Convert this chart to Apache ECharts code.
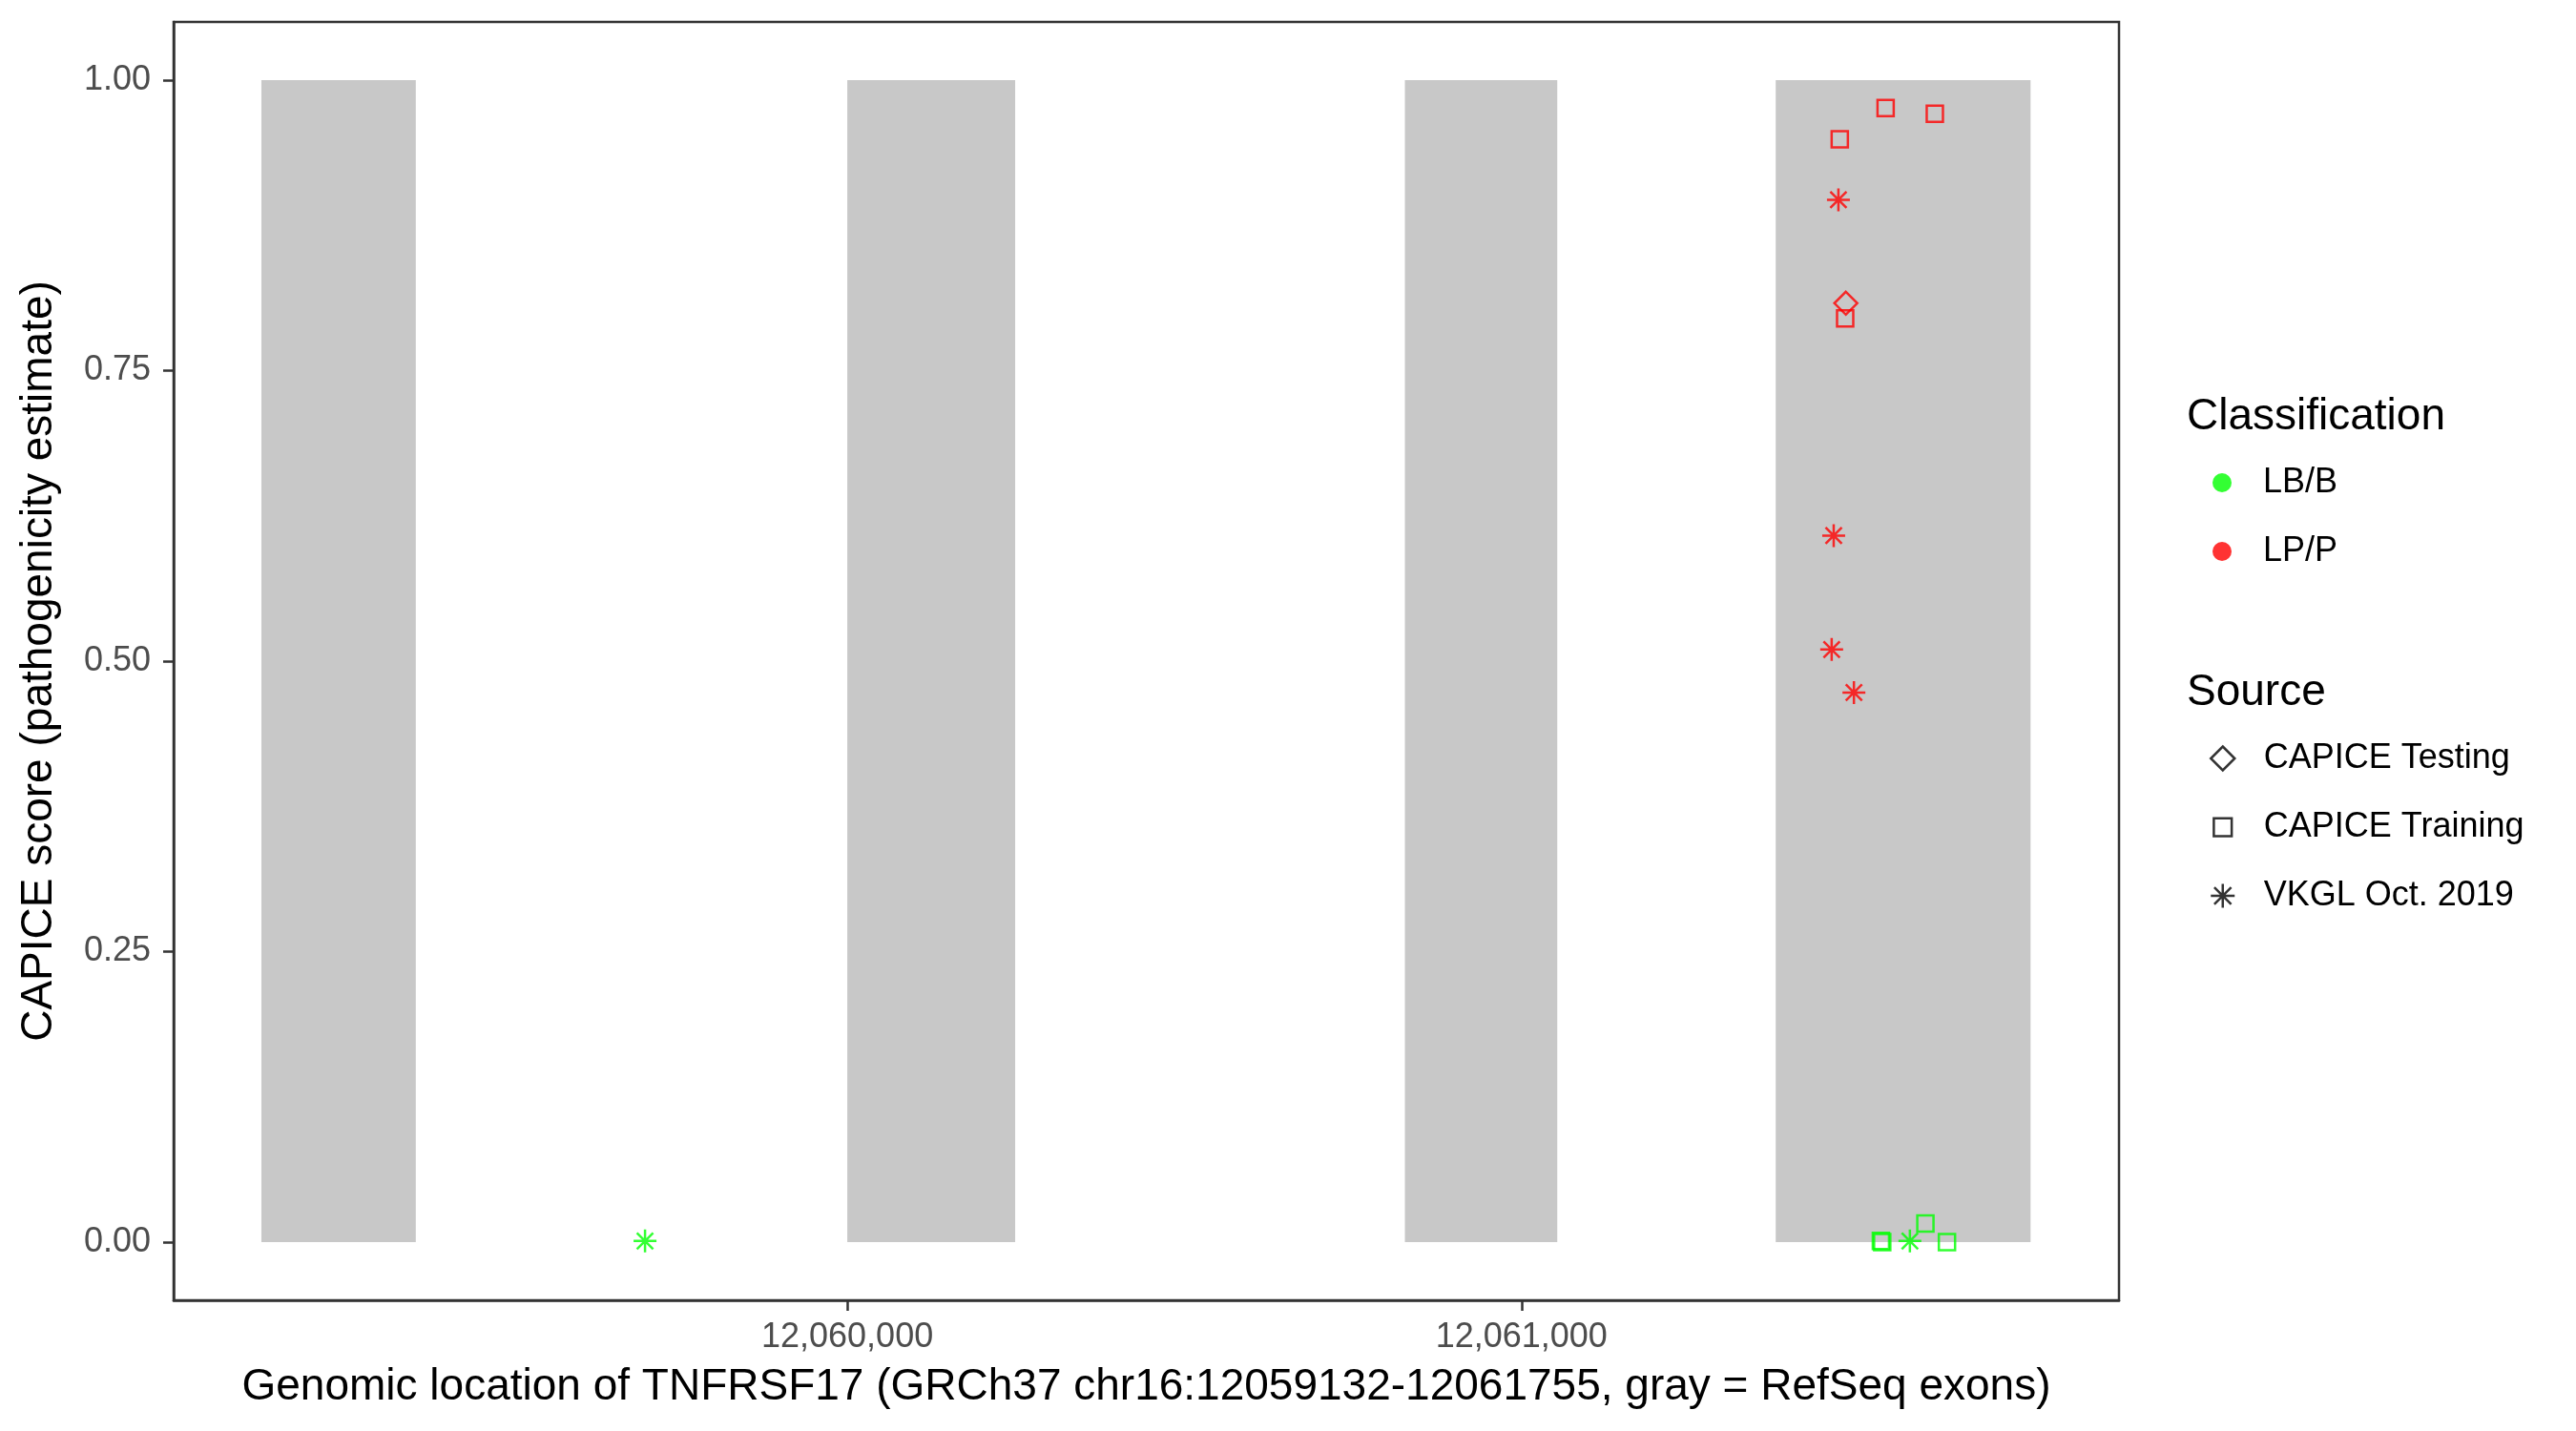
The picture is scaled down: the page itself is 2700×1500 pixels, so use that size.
<!DOCTYPE html>
<html>
<head>
<meta charset="utf-8">
<title>TNFRSF17 CAPICE scores</title>
<script src="https://cdn.jsdelivr.net/npm/echarts@6/dist/echarts.min.js"></script>
<style>
  html, body { margin: 0; padding: 0; background: #fff; }
  #chart { width: 2700px; height: 1500px; }
</style>
</head>
<body>
<div id="chart"></div>
<script>
// gene region, GRCh37 chr16
const regionStart = 12059132
const regionEnd = 12061755

// RefSeq exons (the gray bars)
const exonStarts = [12059131, 12060000, 12060827, 12061377]
const exonEnds = [12059360, 12060249, 12061053, 12061755]

const xTicks = [12060000, 12061000]
const yTicks = [0, 0.25, 0.5, 0.75, 1]

const classNames = ['LB/B', 'LP/P']
const classColors = ['#00ff00', '#ff0000']

// CAPICE Testing
const testingPos = [12061481]
const testingScore = [0.808]
const testingClass = ['LP/P']

// CAPICE Training
const trainingPos = [12061472, 12061540, 12061613, 12061480, 12061533, 12061535, 12061599, 12061631]
const trainingScore = [0.949, 0.976, 0.971, 0.795, 0.001, 0.0, 0.016, 0.0]
const trainingClass = ['LP/P', 'LP/P', 'LP/P', 'LP/P', 'LB/B', 'LB/B', 'LB/B', 'LB/B']

// VKGL Oct. 2019
const vkglPos = [12061470, 12061463, 12061460, 12061493, 12059700, 12061576]
const vkglScore = [0.897, 0.608, 0.510, 0.473, 0.001, 0.001]
const vkglClass = ['LP/P', 'LP/P', 'LP/P', 'LP/P', 'LB/B', 'LB/B']

const font = 'Liberation Sans'
const asterisk = 'path://M0,-12L0,12M-12,0L12,0M-8.5,-8.5L8.5,8.5M-8.5,8.5L8.5,-8.5'
const diamond = 'path://M0,-12L12,0L0,12L-12,0Z'
// square with empty margin so the legend icon comes out a bit smaller
const smallSquare = 'path://M0,0L0,0M3,3L21,3L21,21L3,21ZM24,24L24,24'

const pad = 0.05 * (regionEnd - regionStart)

const colorOf = (cls) => classColors[classNames.indexOf(cls)]

const toPoints = (pos, score, cls) => pos.map((p, i) => ({
  value: [p, score[i]],
  itemStyle: { color: 'transparent', borderColor: colorOf(cls[i]), borderWidth: 2.5 }
}))

const outline = { color: 'transparent', borderColor: '#000', borderWidth: 2.5 }

const chart = echarts.init(document.getElementById('chart'))

const option = {
  animation: false,
  backgroundColor: '#fff',
  textStyle: { fontFamily: font },
  title: [
    { text: 'Classification', left: 2292, top: 413, padding: 0,
      textStyle: { fontFamily: font, fontSize: 46, fontWeight: 'normal', color: '#000', lineHeight: 48 } },
    { text: 'Source', left: 2292, top: 702, padding: 0,
      textStyle: { fontFamily: font, fontSize: 46, fontWeight: 'normal', color: '#000', lineHeight: 48 } }
  ],
  legend: [
    {
      orient: 'vertical', align: 'left', left: 2319, top: 486, padding: 0,
      itemWidth: 76, itemHeight: 20, itemGap: 32,
      textStyle: { fontFamily: font, fontSize: 36, color: '#000', lineHeight: 40 },
      data: classNames.map((n, i) => ({ name: n, icon: 'circle', itemStyle: { color: classColors[i], borderWidth: 0 } }))
    },
    {
      orient: 'vertical', align: 'left', left: 2316, top: 775, padding: 0,
      itemWidth: 76, itemHeight: 25, itemGap: 32,
      textStyle: { fontFamily: font, fontSize: 36, color: '#000', lineHeight: 40 },
      data: [
        { name: 'CAPICE Testing', icon: diamond, itemStyle: outline },
        { name: 'CAPICE Training', icon: smallSquare, itemStyle: outline },
        { name: 'VKGL Oct. 2019', icon: asterisk, itemStyle: outline }
      ]
    }
  ],
  grid: {
    left: 182, right: 479, top: 23, bottom: 137,
    show: true, borderColor: '#333', borderWidth: 2.5, backgroundColor: 'transparent'
  },
  xAxis: {
    type: 'value',
    min: regionStart - pad,
    max: regionEnd + pad,
    name: 'Genomic location of TNFRSF17 (GRCh37 chr16:' + regionStart + '-' + regionEnd + ', gray = RefSeq exons)',
    nameLocation: 'middle',
    nameGap: 68,
    nameTextStyle: { fontFamily: font, fontSize: 46, color: '#000' },
    axisLine: { show: true, onZero: false, lineStyle: { color: '#333', width: 2.5 } },
    axisTick: { show: true, length: 11, customValues: xTicks, lineStyle: { color: '#333', width: 2.5 } },
    axisLabel: {
      customValues: xTicks, margin: 21, fontSize: 36, color: '#4d4d4d', fontFamily: font,
      formatter: (v) => String(v).replace(/\B(?=(\d{3})+(?!\d))/g, ',')
    },
    splitLine: { show: false }
  },
  yAxis: {
    type: 'value',
    min: -0.05,
    max: 1.05,
    name: 'CAPICE score (pathogenicity estimate)',
    nameLocation: 'middle',
    nameGap: 118,
    nameTextStyle: { fontFamily: font, fontSize: 46, color: '#000' },
    axisLine: { show: true, onZero: false, lineStyle: { color: '#333', width: 2.5 } },
    axisTick: { show: true, length: 11, customValues: yTicks, lineStyle: { color: '#333', width: 2.5 } },
    axisLabel: {
      customValues: yTicks, margin: 24, fontSize: 36, color: '#4d4d4d', fontFamily: font,
      formatter: (v) => v.toFixed(2)
    },
    splitLine: { show: false }
  },
  series: [
    {
      type: 'custom',
      name: 'exons',
      silent: true,
      z: 1,
      encode: { x: [0, 1] },
      data: exonStarts.map((s, i) => [s, exonEnds[i]]),
      renderItem: (params, api) => {
        const p0 = api.coord([api.value(0), 1])
        const p1 = api.coord([api.value(1), 0])
        return {
          type: 'rect',
          shape: { x: p0[0], y: p0[1], width: p1[0] - p0[0], height: p1[1] - p0[1] },
          style: { fill: '#c8c8c8' }
        }
      }
    },
    // legend-only series for the classification colours
    { type: 'scatter', name: 'LB/B', data: [], itemStyle: { color: classColors[0] } },
    { type: 'scatter', name: 'LP/P', data: [], itemStyle: { color: classColors[1] } },
    {
      type: 'scatter', name: 'CAPICE Testing', z: 3,
      symbol: diamond, symbolSize: 24,
      data: toPoints(testingPos, testingScore, testingClass)
    },
    {
      type: 'scatter', name: 'CAPICE Training', z: 3,
      symbol: 'rect', symbolSize: 17,
      data: toPoints(trainingPos, trainingScore, trainingClass)
    },
    {
      type: 'scatter', name: 'VKGL Oct. 2019', z: 3,
      symbol: asterisk, symbolSize: 24,
      data: toPoints(vkglPos, vkglScore, vkglClass)
    }
  ]
}

chart.setOption(option)
</script>
</body>
</html>
